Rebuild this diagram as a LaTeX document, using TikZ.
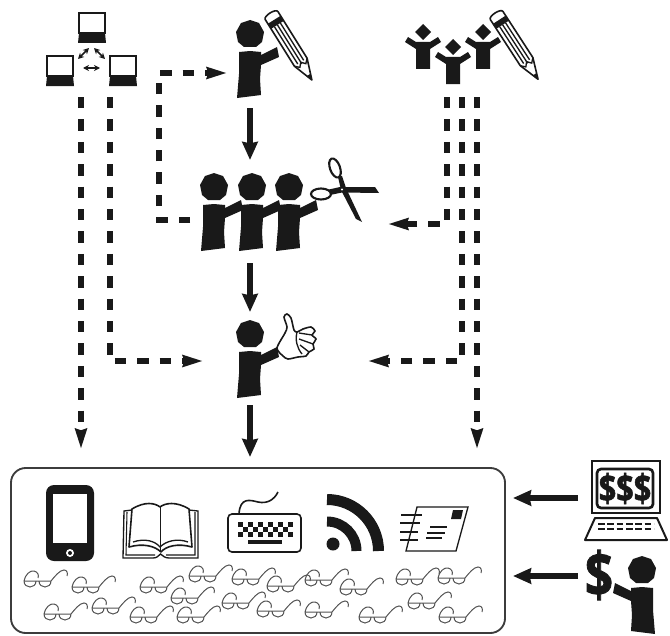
\documentclass[tikz,border=0pt]{standalone}
\usepackage{fontspec}
\newfontfamily\moneyfont[BoldFeatures={FakeBold=1.6}]{Open Sans}
\usetikzlibrary{arrows.meta}
\definecolor{ink}{gray}{0.1}

\tikzset{
  person/.pic={
    \fill[ink] (0,-14) -- (9,-11) -- (14,-2) -- (12,8) -- (6,13) -- (-6,13) -- (-12,8) -- (-14,-2) -- (-9,-11) -- cycle;
    \fill[ink] (-11,18) -- (0,17) -- (11,18) -- (11,21) -- (27,13) -- (29,23) -- (11,31) -- (10,45) -- (11,61) -- (-13,64) -- (-11,40) -- cycle;
  },
  cheerer/.pic={
    \fill[ink] (0,-8) -- (8,0) -- (0,8) -- (-8,0) -- cycle;
    \fill[ink] (-18,10) -- (-15,5) -- (-7,10) -- (7,10) -- (15,5) -- (18,10) -- (7,17) -- (7,37) -- (-7,37) -- (-7,17) -- cycle;
  },
  pencil/.pic={
    \draw[ink, line width=1.2pt, line join=round, fill=white] (8,-7.5) -- (58,-7.5) -- (79,0) -- (58,7.5) -- (8,7.5) -- (3,7.5) .. controls (-1,7.5) and (-1,-7.5) .. (3,-7.5) -- cycle;
    \fill[ink] (8,-7.5) rectangle (14,7.5);
    \draw[ink, line width=1pt] (14,-3.5) -- (58,-3.5) (14,0) -- (60,0) (14,3.5) -- (58,3.5);
    \draw[ink, line width=1pt] (58,-7.5) -- (62,-3.5) -- (58,0) -- (62,3.5) -- (58,7.5);
    \fill[ink] (73,-2) -- (79,0) -- (73,2) -- cycle;
  },
  netpc/.pic={
    \draw[ink, line width=1.8pt, fill=white] (1,1) rectangle (27,21);
    \fill[ink] (1,21) -- (27,21) -- (28,31) -- (0,31) -- cycle;
  },
  specs/.pic={
    \draw[ink!75, line width=.75pt] (0,0) -- (27,0)
      (0,0) .. controls (0,8) and (12,8) .. (12,0)
      (15,0) .. controls (15,8) and (27,8) .. (27,0)
      (0,0) .. controls (1,-6) and (6,-11) .. (10,-10) .. controls (14,-9) and (15,-6) .. (14,-3)
      (27,0) .. controls (31,-5) and (36,-11) .. (40,-11) .. controls (43,-11) and (44,-8) .. (43,-5);
  },
  solidarrow/.style={ink, line width=5.2pt, -{Stealth[length=13.5pt,width=11.5pt,inset=1pt]}},
  dashedarrow/.style={ink, line width=4.4pt, dash pattern=on 8.6pt off 8.2pt, -{Stealth[length=15pt,width=8.5pt,inset=1pt]}},
  netarrow/.style={ink, line width=1.2pt, {Stealth[length=4.5pt,width=4.5pt]}-{Stealth[length=4.5pt,width=4.5pt]}}
}

\begin{document}
\begin{tikzpicture}[x=.75pt, y=-.75pt]
  \useasboundingbox (0,0) rectangle (670,635);

  % network of computers
  \pic at (78,12) {netpc};
  \pic at (46,55) {netpc};
  \pic at (109,55) {netpc};
  \coordinate (netL) at (78,59);
  \coordinate (netT1) at (89,48);
  \coordinate (netR) at (105,59);
  \coordinate (netT2) at (94,48);
  \coordinate (netA) at (83,68);
  \coordinate (netB) at (100,68);
  \draw[netarrow] (netL) -- (netT1);
  \draw[netarrow] (netR) -- (netT2);
  \draw[netarrow] (netA) -- (netB);

  % people
  \pic at (250,34) {person};
  \pic[rotate=-58] at (270,13) {pencil};
  \pic at (214,187) {person};
  \pic at (252,187) {person};
  \pic at (289,187) {person};
  \pic at (250,334) {person};
  \pic[xscale=-1] at (642,570) {person};

  % scissors
  \draw[ink, line width=1.6pt, fill=white] (321,194) ellipse [x radius=10, y radius=5.5];
  \draw[ink, line width=1.6pt, fill=white, rotate around={20:(335,168)}] (335,168) ellipse [x radius=5, y radius=10];
  \fill[ink] (329,189.5) -- (340,187) -- (375,187) -- (379,193) -- (342,192.5) -- (330,195) -- cycle;
  \fill[ink] (338,177) -- (342,176) -- (346,188) -- (362,222) -- (356,219) -- (341,190) -- cycle;
  \fill[white] (342,189.5) circle (1.2);

  % thumb
  \draw[ink, line width=1.2pt, fill=white] plot[smooth cycle, tension=.45] coordinates {(277,348) (285,333) (287,327) (284,317) (287,314) (291,318) (294,330) (297,332) (303,329) (311,327) (315,331) (312,335) (316,339) (313,344) (314,349) (309,352) (306,356) (298,357) (288,359) (283,356)};
  \draw[ink, line width=1pt] (299,333) -- (312,335) (299,339) -- (313,344) (300,345) -- (309,352) (297,332) .. controls (295,340) and (297,348) .. (302,354);

  % cheering people
  \pic at (423,32) {cheerer};
  \pic at (453,47) {cheerer};
  \pic at (483,32) {cheerer};
  \pic[rotate=-57] at (495,13) {pencil};

  % connectors
  \coordinate (netout1) at (81,97);
  \coordinate (boxin1) at (81,449);
  \coordinate (netout2) at (110,97);
  \coordinate (reviewL) at (203,361);
  \coordinate (teamout) at (190,220);
  \coordinate (writerin) at (227,73);
  \coordinate (crowdout1) at (447,97);
  \coordinate (teamin) at (388,224);
  \coordinate (crowdout2) at (462,97);
  \coordinate (reviewR) at (368,361);
  \coordinate (crowdout3) at (477,97);
  \coordinate (boxin3) at (477,449);
  \coordinate (writerout) at (250,108);
  \coordinate (teamtop) at (250,160);
  \coordinate (teamdown) at (250,263);
  \coordinate (reviewtop) at (250,312);
  \coordinate (reviewdown) at (250,405);
  \coordinate (boxin2) at (250,457);
  \coordinate (payA) at (578,498);
  \coordinate (boxA) at (513,498);
  \coordinate (payB) at (578,576);
  \coordinate (boxB) at (513,576);

  \draw[dashedarrow] (netout1) -- (boxin1);
  \draw[dashedarrow] (netout2) |- (reviewL);
  \draw[dashedarrow] (teamout) -- (159,220) -- (159,73) -- (writerin);
  \draw[dashedarrow] (crowdout1) |- (teamin);
  \draw[dashedarrow] (crowdout2) |- (reviewR);
  \draw[dashedarrow] (crowdout3) -- (boxin3);
  \draw[solidarrow] (writerout) -- (teamtop);
  \draw[solidarrow] (teamdown) -- (reviewtop);
  \draw[solidarrow] (reviewdown) -- (boxin2);
  \draw[solidarrow] (payA) -- (boxA);
  \draw[solidarrow] (payB) -- (boxB);

  % media box
  \draw[ink!85, line width=1.4pt, rounded corners=11pt] (11,468) rectangle (505,633);

  % phone
  \fill[ink, rounded corners=6pt] (46,485) rectangle (94,561);
  \fill[white] (53,494) rectangle (87,543);
  \fill[white] (70,553) circle (4);
  \fill[ink] (70,553) circle (2);

  % book
  \draw[ink, line width=1.2pt, line join=round] (132,509) .. controls (145,501) and (155,503) .. (160,507) .. controls (165,503) and (176,501) .. (189,509) -- (192,547) .. controls (178,543) and (166,546) .. (161,552) .. controls (155,546) and (143,543) .. (129,547) -- cycle;
  \draw[ink, line width=1.2pt] (160.5,507) -- (160.5,552);
  \draw[ink, line width=1pt] (133,542) .. controls (145,538) and (155,541) .. (160,547) .. controls (166,541) and (177,538) .. (188,542);
  \draw[ink, line width=1pt] (132,510) -- (124,511) -- (123,558) -- (153,558) .. controls (157,558) and (158,556) .. (160.5,554) .. controls (163,556) and (165,558) .. (169,558) -- (198,558) -- (198,511) -- (189,510);
  \draw[ink, line width=.8pt] (127,512) -- (126,555) -- (155,555) (195,512) -- (195,555) -- (166,555);

  % keyboard
  \draw[ink, line width=1.2pt, rounded corners=3pt] (228,514) rectangle (301,552);
  \draw[ink, line width=1.2pt] (239,514) .. controls (240,497) and (250,500) .. (258,502) .. controls (267,504) and (274,500) .. (278,492);
  \foreach \col in {0,...,10} {
    \foreach \row in {0,1,2} {
      \pgfmathparse{int(mod(\col+\row,2))}
      \ifnum\pgfmathresult=0
        \fill[ink] (238+\col*5,522+\row*5) rectangle ++(5,5);
      \fi
    }
  }
  \fill[ink] (248,540) rectangle (282,544);

  % feed
  \fill[ink] (333,544) circle (6.5);
  \draw[ink, line width=8.25pt] (327,499.5) .. controls (355.4,499.5) and (378.5,522.6) .. (378.5,551);
  \draw[ink, line width=7.5pt] (327,521.5) .. controls (343.3,521.5) and (356.5,534.7) .. (356.5,551);

  % letter
  \draw[ink, line width=1pt] (417,507) -- (468,507) -- (456,551) -- (406,551) -- cycle;
  \fill[ink] (453,510) -- (463,510) -- (461,519) -- (451,519) -- cycle;
  \draw[ink, line width=1.6pt] (430,527) -- (447,527) (427,533) -- (445,533) (426,538) -- (442,538);
  \draw[ink, line width=1.9pt] (401,515) -- (422,515) (400,523) -- (420,523) (400,532) -- (418,532) (400,540) -- (418,540);

  % reader glasses
  \foreach \gx/\gy in {24/581, 72/587, 140/587, 189/576, 232/579, 171/598, 222/603, 44/614, 92/608, 130/617, 177/617, 257/611, 267/586, 305/580, 340/589, 396/579, 438/578, 408/603, 439/617, 305/612, 359/617} {
    \pic at (\gx,\gy) {specs};
  }

  % payment laptop
  \draw[ink, line width=2pt] (592,461) rectangle (660,513);
  \draw[ink, line width=2pt, rounded corners=3pt] (597,469) rectangle (653,508);
  \node[ink, font=\moneyfont\bfseries\fontsize{23}{23}\selectfont, inner sep=0pt, yscale=1.25, transform shape] (money) at (625,488.5) {\$\$\$};
  \draw[ink, line width=1.5pt, line join=round] (595,518) -- (657,518) -- (667,540) -- (585,540) -- cycle;
  \draw[ink, line width=.9pt, dash pattern=on 5pt off 2pt] (598,524) -- (654,524) (598,529) -- (654,529);

  % dollar
  \node[ink, font=\moneyfont\bfseries\fontsize{37}{37}\selectfont, inner sep=0pt, yscale=1.25, transform shape] (dollar) at (599,575) {\$};
\end{tikzpicture}
\end{document}
